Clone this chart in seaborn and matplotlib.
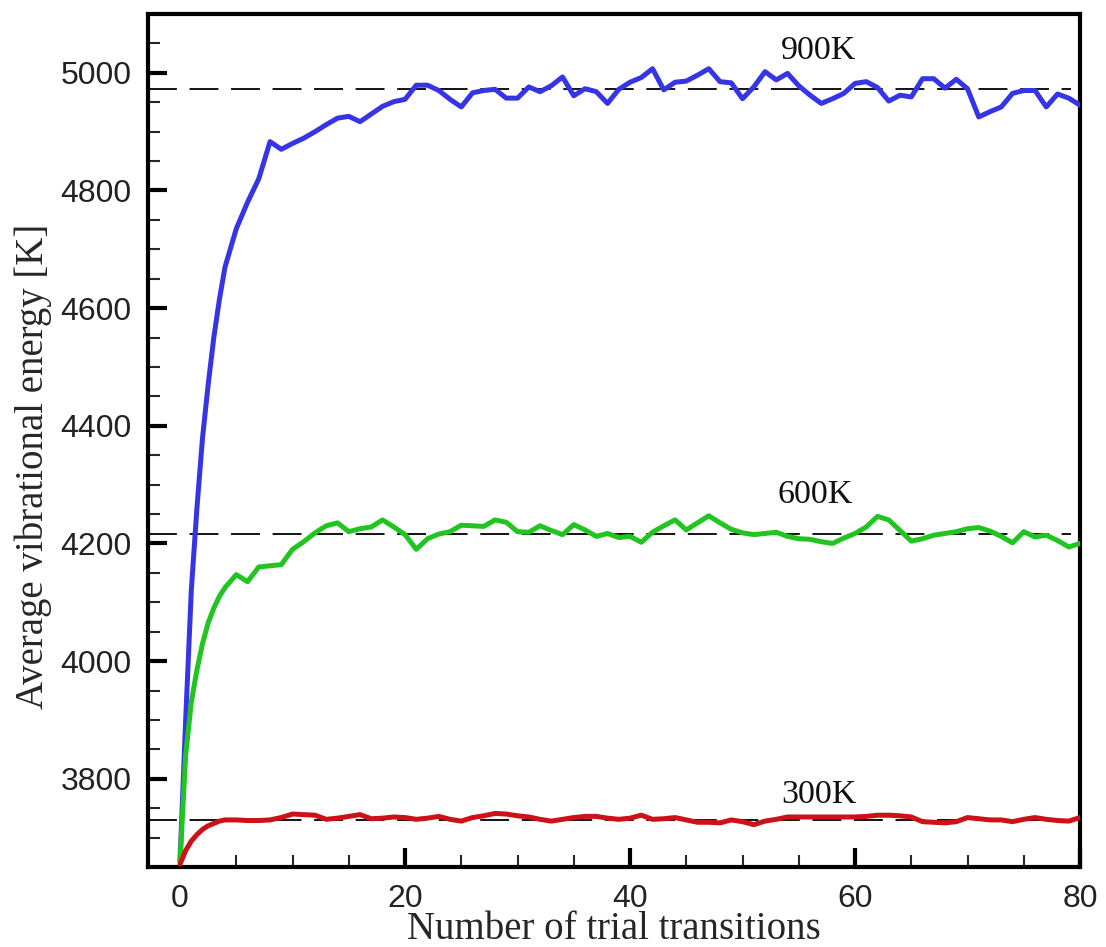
import matplotlib
matplotlib.use("Agg")
import matplotlib.pyplot as plt
import seaborn as sns
import pandas as pd
from matplotlib.ticker import MultipleLocator

# ---- data -------------------------------------------------------------
trials = [0, 0.5, 1, 1.5, 2, 2.5, 3, 3.5] + list(range(4, 81))

energy_900K = [3660, 3900, 4120, 4260, 4380, 4470, 4550, 4615,
               4670, 4735, 4780, 4820, 4883, 4870, 4880, 4889, 4900, 4912,
               4923, 4926, 4917, 4930, 4943, 4951, 4955, 4979, 4979, 4970,
               4955, 4942, 4966, 4970, 4972, 4957, 4957, 4976, 4968, 4978,
               4993, 4961, 4973, 4968, 4948, 4972, 4984, 4992, 5007, 4971,
               4984, 4986, 4996, 5007, 4985, 4983, 4956, 4976, 5002, 4988,
               4999, 4978, 4962, 4948, 4956, 4965, 4982, 4985, 4975, 4952,
               4962, 4959, 4990, 4990, 4974, 4989, 4973, 4925, 4934, 4942,
               4965, 4970, 4970, 4942, 4964, 4957, 4945]

energy_600K = [3660, 3840, 3930, 3985, 4030, 4065, 4090, 4110,
               4125, 4147, 4135, 4160, 4162, 4164, 4190, 4203, 4218, 4230,
               4235, 4220, 4225, 4228, 4240, 4228, 4215, 4190, 4208, 4216,
               4220, 4231, 4230, 4229, 4240, 4236, 4220, 4219, 4230, 4222,
               4215, 4232, 4223, 4212, 4217, 4210, 4212, 4202, 4219, 4230,
               4240, 4223, 4235, 4247, 4235, 4224, 4218, 4215, 4217, 4219,
               4212, 4208, 4207, 4203, 4200, 4209, 4217, 4228, 4246, 4240,
               4222, 4204, 4208, 4214, 4217, 4220, 4225, 4227, 4221, 4212,
               4201, 4220, 4211, 4214, 4205, 4194, 4200]

energy_300K = [3655, 3678, 3694, 3705, 3714, 3720, 3724, 3728,
               3730, 3730, 3729, 3729, 3730, 3734, 3740, 3739, 3738, 3731,
               3733, 3736, 3739, 3732, 3733, 3735, 3734, 3731, 3733, 3736,
               3731, 3728, 3734, 3737, 3741, 3740, 3737, 3735, 3731, 3728,
               3731, 3734, 3736, 3736, 3733, 3731, 3733, 3738, 3731, 3732,
               3734, 3730, 3726, 3726, 3725, 3730, 3727, 3722, 3728, 3731,
               3735, 3735, 3735, 3735, 3735, 3735, 3735, 3736, 3738, 3738,
               3737, 3735, 3727, 3726, 3725, 3727, 3734, 3732, 3730, 3730,
               3727, 3731, 3734, 3731, 3729, 3728, 3734]

equilibrium = {"900K": 4972, "600K": 4216, "300K": 3730}
label_pos = {"900K": (56.8, 5024), "600K": (56.5, 4268), "300K": (56.8, 3759)}
colors = {"900K": "#3535e6", "600K": "#22c422", "300K": "#cc1218"}

x_ticks = [0, 20, 40, 60, 80]
y_ticks = [3800, 4000, 4200, 4400, 4600, 4800, 5000]

# ---- figure -----------------------------------------------------------
sns.set_style("ticks")
plt.rcParams["font.family"] = ["Liberation Sans", "DejaVu Sans"]
serif = ["Liberation Serif", "DejaVu Serif"]

fig = plt.figure(figsize=(11.06, 9.47), dpi=100)
ax = fig.add_axes([0.1338, 0.0845, 0.9765 - 0.1338, 0.9852 - 0.0845])

df = pd.DataFrame({
    "trials": trials * 3,
    "energy": energy_900K + energy_600K + energy_300K,
    "T": ["900K"] * len(trials) + ["600K"] * len(trials) + ["300K"] * len(trials),
})

for name in ["900K", "600K", "300K"]:
    ax.axhline(equilibrium[name], xmin=0, xmax=0.99, color="black", lw=1.3,
               dashes=(16, 7), zorder=1)

sns.lineplot(data=df, x="trials", y="energy", hue="T", palette=colors,
             hue_order=["900K", "600K", "300K"], lw=3.6, ax=ax, legend=False,
             zorder=3)

for name, (tx, ty) in label_pos.items():
    ax.text(tx, ty, name, ha="center", va="baseline", fontsize=24.5,
            family=serif, color="#111111")

ax.set_xlim(-2.85, 80)
ax.set_ylim(3650, 5100)
ax.set_xticks(x_ticks)
ax.set_yticks(y_ticks)
ax.xaxis.set_minor_locator(MultipleLocator(5))
ax.yaxis.set_minor_locator(MultipleLocator(50))

for s in ax.spines.values():
    s.set_linewidth(3)
    s.set_color("black")

ax.tick_params(which="major", direction="in", length=14, width=3,
               labelsize=23, pad=12, top=False, right=False, colors="black")
ax.tick_params(which="minor", direction="in", length=8.5, width=1.5,
               top=False, right=False)
for lab in ax.get_xticklabels() + ax.get_yticklabels():
    lab.set_color("#222222")

ax.set_xlabel("Number of trial transitions", fontsize=28, family=serif)
ax.set_ylabel("Average vibrational energy [K]", fontsize=28, family=serif)
ax.xaxis.set_label_coords(0.5, -0.052)
ax.yaxis.set_label_coords(-0.103, 0.47)

fig.savefig("out.png", dpi=100)
